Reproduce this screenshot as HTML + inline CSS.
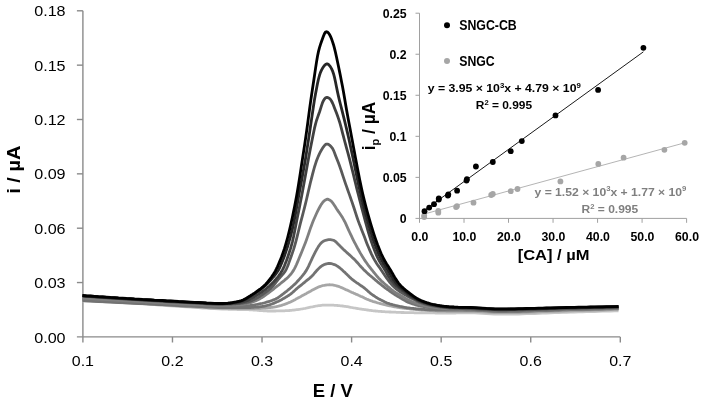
<!DOCTYPE html>
<html><head><meta charset="utf-8"><title>chart</title>
<style>
html,body{margin:0;padding:0;background:#fff;}
body{width:703px;height:404px;overflow:hidden;}
svg{display:block;font-family:"Liberation Sans",sans-serif;filter:grayscale(1);}
</style></head><body>
<svg width="703" height="404" viewBox="0 0 703 404">
<rect width="703" height="404" fill="#fff"/>
<g stroke="#8a8a8a" stroke-width="1.4" fill="none">
<path d="M82.9,10.8 V342.5"/>
<path d="M76.9,336.9 H620.3"/>
<path d="M76.9,10.80 H82.9"/>
<path d="M76.9,65.15 H82.9"/>
<path d="M76.9,119.50 H82.9"/>
<path d="M76.9,173.85 H82.9"/>
<path d="M76.9,228.20 H82.9"/>
<path d="M76.9,282.55 H82.9"/>
<path d="M172.47,336.9 V342.5"/>
<path d="M262.03,336.9 V342.5"/>
<path d="M351.60,336.9 V342.5"/>
<path d="M441.17,336.9 V342.5"/>
<path d="M530.73,336.9 V342.5"/>
<path d="M620.30,336.9 V342.5"/>
</g>
<g font-size="15.3" fill="#000">
<text x="34.2" y="16.40" textLength="31.4" lengthAdjust="spacingAndGlyphs">0.18</text>
<text x="34.2" y="70.75" textLength="31.4" lengthAdjust="spacingAndGlyphs">0.15</text>
<text x="34.2" y="125.10" textLength="31.4" lengthAdjust="spacingAndGlyphs">0.12</text>
<text x="34.2" y="179.45" textLength="31.4" lengthAdjust="spacingAndGlyphs">0.09</text>
<text x="34.2" y="233.80" textLength="31.4" lengthAdjust="spacingAndGlyphs">0.06</text>
<text x="34.2" y="288.15" textLength="31.4" lengthAdjust="spacingAndGlyphs">0.03</text>
<text x="34.2" y="342.50" textLength="31.4" lengthAdjust="spacingAndGlyphs">0.00</text>
<text x="71.80" y="365.7" textLength="22.2" lengthAdjust="spacingAndGlyphs">0.1</text>
<text x="161.37" y="365.7" textLength="22.2" lengthAdjust="spacingAndGlyphs">0.2</text>
<text x="250.93" y="365.7" textLength="22.2" lengthAdjust="spacingAndGlyphs">0.3</text>
<text x="340.50" y="365.7" textLength="22.2" lengthAdjust="spacingAndGlyphs">0.4</text>
<text x="430.07" y="365.7" textLength="22.2" lengthAdjust="spacingAndGlyphs">0.5</text>
<text x="519.63" y="365.7" textLength="22.2" lengthAdjust="spacingAndGlyphs">0.6</text>
<text x="609.20" y="365.7" textLength="22.2" lengthAdjust="spacingAndGlyphs">0.7</text>
</g>
<text x="312.7" y="396.8" font-size="17.6" font-weight="bold" textLength="40.1" lengthAdjust="spacingAndGlyphs">E / V</text>
<text transform="translate(20.3,193.8) rotate(-90)" font-size="18.2" font-weight="bold" textLength="48.3" lengthAdjust="spacingAndGlyphs">i / µA</text>
<g fill="none" stroke-width="2.8" stroke-linejoin="round" stroke-linecap="butt">
<path d="M82.5,300.8 86.5,301.0 90.5,301.2 94.5,301.4 98.5,301.6 102.5,301.8 106.5,302.0 110.5,302.2 114.5,302.4 118.5,302.6 122.5,302.8 126.5,303.0 130.5,303.3 134.5,303.5 138.5,303.7 142.5,303.9 146.5,304.2 150.5,304.4 154.5,304.7 158.5,305.0 162.5,305.2 166.5,305.5 170.5,305.8 174.5,306.1 178.5,306.4 182.5,306.6 186.5,306.9 190.5,307.2 194.5,307.4 198.5,307.7 202.5,308.0 206.5,308.2 210.5,308.5 214.5,308.7 218.5,308.9 222.5,309.1 226.5,309.2 227.5,309.2 228.5,309.3 229.5,309.3 230.5,309.3 231.5,309.3 232.5,309.3 233.5,309.4 234.5,309.4 235.5,309.4 236.5,309.4 237.5,309.5 238.5,309.5 239.5,309.5 240.5,309.5 241.5,309.5 242.5,309.6 243.5,309.6 244.5,309.6 245.5,309.7 246.5,309.7 247.5,309.7 248.5,309.7 249.5,309.8 250.5,309.8 251.5,309.9 252.5,309.9 253.5,310.0 254.5,310.1 255.5,310.1 256.5,310.2 257.5,310.3 258.5,310.4 259.5,310.5 260.5,310.5 261.5,310.6 262.5,310.7 263.5,310.8 264.5,310.8 265.5,310.9 266.5,310.9 267.5,311.0 268.5,311.0 269.5,311.0 270.5,311.0 271.5,311.0 272.5,311.0 273.5,311.0 274.5,311.0 275.5,311.0 276.5,310.9 277.5,310.9 278.5,310.9 279.5,310.9 280.5,310.9 281.5,310.9 282.5,310.8 283.5,310.8 284.5,310.8 285.5,310.7 286.5,310.7 287.5,310.6 288.5,310.6 289.5,310.5 290.5,310.4 291.5,310.3 292.5,310.2 293.5,310.1 294.5,310.0 295.5,309.8 296.5,309.7 297.5,309.6 298.5,309.5 299.5,309.3 300.5,309.2 301.5,309.0 302.5,308.8 303.5,308.7 304.5,308.5 305.5,308.3 306.5,308.0 307.5,307.8 308.5,307.6 309.5,307.4 310.5,307.2 311.5,307.0 312.5,306.8 313.5,306.6 314.5,306.3 315.5,306.2 316.5,306.0 317.5,305.8 318.5,305.7 319.5,305.6 320.5,305.5 321.5,305.3 322.5,305.2 323.5,305.2 324.5,305.1 325.5,305.1 326.5,305.1 327.5,305.1 328.5,305.1 329.5,305.1 330.5,305.2 331.5,305.2 332.5,305.2 333.5,305.2 334.5,305.3 335.5,305.3 336.5,305.4 337.5,305.5 338.5,305.6 339.5,305.7 340.5,305.8 341.5,305.9 342.5,306.0 343.5,306.1 344.5,306.3 345.5,306.4 346.5,306.6 347.5,306.7 348.5,306.9 349.5,307.1 350.5,307.3 351.5,307.5 352.5,307.7 353.5,307.8 354.5,308.0 355.5,308.2 356.5,308.4 357.5,308.5 358.5,308.7 359.5,308.8 360.5,309.0 361.5,309.1 362.5,309.3 363.5,309.4 364.5,309.6 365.5,309.7 366.5,309.9 367.5,310.0 368.5,310.1 369.5,310.3 370.5,310.4 371.5,310.5 372.5,310.7 373.5,310.8 374.5,310.9 375.5,311.0 376.5,311.1 377.5,311.2 378.5,311.3 379.5,311.4 380.5,311.4 381.5,311.5 382.5,311.6 383.5,311.6 384.5,311.7 385.5,311.8 386.5,311.8 387.5,311.9 388.5,311.9 389.5,312.0 390.5,312.0 391.5,312.1 392.5,312.1 393.5,312.2 394.5,312.2 395.5,312.2 396.5,312.3 397.5,312.3 398.5,312.4 399.5,312.4 400.5,312.4 401.5,312.5 402.5,312.5 403.5,312.5 404.5,312.6 405.5,312.6 406.5,312.6 407.5,312.7 408.5,312.7 409.5,312.7 410.5,312.7 411.5,312.7 412.5,312.7 413.5,312.7 414.5,312.8 415.5,312.8 416.5,312.8 417.5,312.8 418.5,312.8 419.5,312.8 420.5,312.8 421.5,312.8 422.5,312.8 423.5,312.9 424.5,312.9 425.5,312.9 426.5,312.9 427.5,312.9 428.5,312.9 429.5,312.9 430.5,312.9 431.5,312.9 432.5,312.9 433.5,312.9 434.5,312.9 435.5,313.0 436.5,313.0 437.5,313.0 438.5,313.0 439.5,313.0 440.5,313.0 441.5,313.0 442.5,313.0 443.5,313.0 444.5,313.0 445.5,313.0 446.5,313.0 447.5,313.0 448.5,313.0 449.5,313.0 450.5,313.0 451.5,313.0 452.5,313.0 453.5,313.0 454.5,313.0 455.5,313.0 456.5,312.9 457.5,312.9 458.5,312.9 459.5,312.9 462.5,312.9 466.5,312.8 470.5,312.8 474.5,312.9 478.5,313.1 482.5,313.3 486.5,313.6 490.5,313.9 494.5,314.1 498.5,314.2 502.5,314.2 506.5,314.2 510.5,314.1 514.5,314.0 518.5,314.0 522.5,313.8 526.5,313.7 530.5,313.6 534.5,313.5 538.5,313.3 542.5,313.2 546.5,313.0 550.5,312.9 554.5,312.7 558.5,312.6 562.5,312.4 566.5,312.3 570.5,312.2 574.5,312.0 578.5,311.9 582.5,311.8 586.5,311.7 590.5,311.6 594.5,311.5 598.5,311.3 602.5,311.2 606.5,311.1 610.5,311.0 614.5,310.9 618.5,310.8" stroke="#c6c6c6"/>
<path d="M82.5,300.2 86.5,300.4 90.5,300.6 94.5,300.8 98.5,301.0 102.5,301.2 106.5,301.4 110.5,301.6 114.5,301.9 118.5,302.1 122.5,302.3 126.5,302.5 130.5,302.7 134.5,303.0 138.5,303.2 142.5,303.4 146.5,303.7 150.5,304.0 154.5,304.2 158.5,304.5 162.5,304.8 166.5,305.0 170.5,305.3 174.5,305.6 178.5,305.9 182.5,306.1 186.5,306.4 190.5,306.6 194.5,306.9 198.5,307.1 202.5,307.3 206.5,307.6 210.5,307.8 214.5,308.0 218.5,308.2 222.5,308.3 226.5,308.4 227.5,308.4 228.5,308.4 229.5,308.4 230.5,308.4 231.5,308.5 232.5,308.5 233.5,308.5 234.5,308.5 235.5,308.5 236.5,308.5 237.5,308.6 238.5,308.6 239.5,308.6 240.5,308.6 241.5,308.6 242.5,308.6 243.5,308.6 244.5,308.6 245.5,308.6 246.5,308.6 247.5,308.6 248.5,308.6 249.5,308.6 250.5,308.5 251.5,308.5 252.5,308.5 253.5,308.5 254.5,308.5 255.5,308.4 256.5,308.4 257.5,308.4 258.5,308.3 259.5,308.3 260.5,308.3 261.5,308.2 262.5,308.2 263.5,308.1 264.5,308.1 265.5,308.0 266.5,307.9 267.5,307.8 268.5,307.7 269.5,307.6 270.5,307.5 271.5,307.4 272.5,307.3 273.5,307.1 274.5,307.0 275.5,306.8 276.5,306.6 277.5,306.4 278.5,306.2 279.5,305.9 280.5,305.6 281.5,305.4 282.5,305.0 283.5,304.7 284.5,304.4 285.5,304.0 286.5,303.6 287.5,303.2 288.5,302.8 289.5,302.4 290.5,302.0 291.5,301.5 292.5,301.0 293.5,300.5 294.5,299.9 295.5,299.4 296.5,298.8 297.5,298.3 298.5,297.7 299.5,297.2 300.5,296.7 301.5,296.1 302.5,295.6 303.5,295.0 304.5,294.5 305.5,293.9 306.5,293.4 307.5,292.8 308.5,292.3 309.5,291.7 310.5,291.2 311.5,290.6 312.5,290.1 313.5,289.6 314.5,289.0 315.5,288.5 316.5,288.0 317.5,287.5 318.5,287.0 319.5,286.6 320.5,286.3 321.5,286.0 322.5,285.7 323.5,285.5 324.5,285.3 325.5,285.1 326.5,285.0 327.5,284.8 328.5,284.8 329.5,284.7 330.5,284.8 331.5,284.8 332.5,284.9 333.5,285.1 334.5,285.3 335.5,285.5 336.5,285.8 337.5,286.1 338.5,286.4 339.5,286.8 340.5,287.2 341.5,287.6 342.5,288.0 343.5,288.5 344.5,288.9 345.5,289.4 346.5,289.9 347.5,290.3 348.5,290.8 349.5,291.3 350.5,291.7 351.5,292.2 352.5,292.6 353.5,293.1 354.5,293.5 355.5,293.9 356.5,294.4 357.5,294.8 358.5,295.3 359.5,295.7 360.5,296.2 361.5,296.6 362.5,297.1 363.5,297.6 364.5,298.1 365.5,298.5 366.5,299.0 367.5,299.4 368.5,299.8 369.5,300.2 370.5,300.6 371.5,300.9 372.5,301.3 373.5,301.6 374.5,301.9 375.5,302.2 376.5,302.5 377.5,302.8 378.5,303.0 379.5,303.3 380.5,303.6 381.5,303.9 382.5,304.1 383.5,304.4 384.5,304.7 385.5,304.9 386.5,305.1 387.5,305.4 388.5,305.6 389.5,305.8 390.5,306.0 391.5,306.2 392.5,306.4 393.5,306.6 394.5,306.8 395.5,307.0 396.5,307.2 397.5,307.3 398.5,307.5 399.5,307.7 400.5,307.8 401.5,307.9 402.5,308.1 403.5,308.2 404.5,308.3 405.5,308.4 406.5,308.5 407.5,308.6 408.5,308.7 409.5,308.8 410.5,309.0 411.5,309.1 412.5,309.2 413.5,309.3 414.5,309.4 415.5,309.5 416.5,309.5 417.5,309.6 418.5,309.7 419.5,309.8 420.5,309.9 421.5,310.0 422.5,310.1 423.5,310.2 424.5,310.2 425.5,310.3 426.5,310.4 427.5,310.5 428.5,310.5 429.5,310.6 430.5,310.6 431.5,310.7 432.5,310.7 433.5,310.8 434.5,310.8 435.5,310.9 436.5,310.9 437.5,311.0 438.5,311.0 439.5,311.1 440.5,311.1 441.5,311.1 442.5,311.2 443.5,311.2 444.5,311.2 445.5,311.2 446.5,311.3 447.5,311.3 448.5,311.3 449.5,311.3 450.5,311.3 451.5,311.3 452.5,311.3 453.5,311.3 454.5,311.3 455.5,311.3 456.5,311.3 457.5,311.3 458.5,311.3 459.5,311.3 462.5,311.3 466.5,311.3 470.5,311.3 474.5,311.4 478.5,311.6 482.5,311.8 486.5,312.1 490.5,312.4 494.5,312.6 498.5,312.7 502.5,312.7 506.5,312.7 510.5,312.6 514.5,312.6 518.5,312.5 522.5,312.4 526.5,312.3 530.5,312.1 534.5,312.0 538.5,311.9 542.5,311.7 546.5,311.6 550.5,311.4 554.5,311.3 558.5,311.2 562.5,311.0 566.5,310.9 570.5,310.8 574.5,310.7 578.5,310.6 582.5,310.5 586.5,310.4 590.5,310.3 594.5,310.2 598.5,310.1 602.5,310.0 606.5,309.9 610.5,309.7 614.5,309.6 618.5,309.6" stroke="#a6a6a6"/>
<path d="M82.5,300.7 86.5,300.9 90.5,301.1 94.5,301.3 98.5,301.5 102.5,301.7 106.5,301.9 110.5,302.1 114.5,302.3 118.5,302.5 122.5,302.7 126.5,302.9 130.5,303.1 134.5,303.3 138.5,303.5 142.5,303.7 146.5,303.9 150.5,304.1 154.5,304.3 158.5,304.5 162.5,304.7 166.5,304.9 170.5,305.1 174.5,305.4 178.5,305.6 182.5,305.8 186.5,306.0 190.5,306.1 194.5,306.3 198.5,306.5 202.5,306.7 206.5,307.0 210.5,307.2 214.5,307.4 218.5,307.5 222.5,307.5 226.5,307.5 227.5,307.5 228.5,307.6 229.5,307.6 230.5,307.6 231.5,307.6 232.5,307.6 233.5,307.6 234.5,307.6 235.5,307.6 236.5,307.6 237.5,307.6 238.5,307.6 239.5,307.6 240.5,307.6 241.5,307.6 242.5,307.6 243.5,307.6 244.5,307.6 245.5,307.6 246.5,307.6 247.5,307.6 248.5,307.5 249.5,307.5 250.5,307.5 251.5,307.4 252.5,307.4 253.5,307.3 254.5,307.2 255.5,307.2 256.5,307.1 257.5,307.0 258.5,307.0 259.5,306.9 260.5,306.7 261.5,306.6 262.5,306.4 263.5,306.3 264.5,306.1 265.5,305.9 266.5,305.6 267.5,305.4 268.5,305.2 269.5,304.9 270.5,304.5 271.5,304.2 272.5,303.8 273.5,303.4 274.5,302.9 275.5,302.5 276.5,302.1 277.5,301.6 278.5,301.2 279.5,300.7 280.5,300.2 281.5,299.7 282.5,299.1 283.5,298.6 284.5,298.0 285.5,297.4 286.5,296.8 287.5,296.1 288.5,295.5 289.5,294.8 290.5,294.1 291.5,293.3 292.5,292.5 293.5,291.6 294.5,290.7 295.5,289.8 296.5,288.9 297.5,288.0 298.5,287.2 299.5,286.4 300.5,285.6 301.5,284.8 302.5,284.0 303.5,283.2 304.5,282.4 305.5,281.5 306.5,280.7 307.5,279.9 308.5,279.1 309.5,278.3 310.5,277.4 311.5,276.4 312.5,275.4 313.5,274.4 314.5,273.2 315.5,272.0 316.5,270.8 317.5,269.7 318.5,268.7 319.5,267.8 320.5,266.9 321.5,266.1 322.5,265.4 323.5,264.9 324.5,264.5 325.5,264.1 326.5,263.8 327.5,263.6 328.5,263.5 329.5,263.5 330.5,263.5 331.5,263.7 332.5,264.0 333.5,264.3 334.5,264.6 335.5,265.0 336.5,265.6 337.5,266.2 338.5,267.0 339.5,267.7 340.5,268.5 341.5,269.3 342.5,270.2 343.5,271.2 344.5,272.1 345.5,273.1 346.5,274.0 347.5,275.0 348.5,275.9 349.5,276.9 350.5,277.9 351.5,278.8 352.5,279.6 353.5,280.4 354.5,281.2 355.5,281.9 356.5,282.6 357.5,283.2 358.5,283.9 359.5,284.6 360.5,285.3 361.5,286.0 362.5,286.7 363.5,287.4 364.5,288.2 365.5,289.0 366.5,289.8 367.5,290.7 368.5,291.7 369.5,292.5 370.5,293.4 371.5,294.1 372.5,294.8 373.5,295.5 374.5,296.2 375.5,296.9 376.5,297.5 377.5,298.1 378.5,298.7 379.5,299.2 380.5,299.8 381.5,300.3 382.5,300.8 383.5,301.3 384.5,301.8 385.5,302.2 386.5,302.7 387.5,303.1 388.5,303.4 389.5,303.8 390.5,304.1 391.5,304.4 392.5,304.7 393.5,305.0 394.5,305.2 395.5,305.5 396.5,305.7 397.5,305.9 398.5,306.1 399.5,306.3 400.5,306.5 401.5,306.7 402.5,306.9 403.5,307.1 404.5,307.3 405.5,307.5 406.5,307.6 407.5,307.8 408.5,307.9 409.5,308.0 410.5,308.2 411.5,308.3 412.5,308.4 413.5,308.5 414.5,308.6 415.5,308.7 416.5,308.8 417.5,308.9 418.5,309.0 419.5,309.1 420.5,309.2 421.5,309.3 422.5,309.4 423.5,309.4 424.5,309.5 425.5,309.6 426.5,309.6 427.5,309.7 428.5,309.7 429.5,309.8 430.5,309.8 431.5,309.8 432.5,309.9 433.5,309.9 434.5,309.9 435.5,310.0 436.5,310.0 437.5,310.0 438.5,310.0 439.5,310.1 440.5,310.1 441.5,310.1 442.5,310.1 443.5,310.1 444.5,310.2 445.5,310.2 446.5,310.2 447.5,310.2 448.5,310.2 449.5,310.2 450.5,310.2 451.5,310.2 452.5,310.2 453.5,310.2 454.5,310.2 455.5,310.2 456.5,310.2 457.5,310.2 458.5,310.2 459.5,310.2 462.5,310.1 466.5,310.1 470.5,310.1 474.5,310.2 478.5,310.4 482.5,310.6 486.5,310.9 490.5,311.2 494.5,311.4 498.5,311.5 502.5,311.5 506.5,311.5 510.5,311.4 514.5,311.4 518.5,311.3 522.5,311.2 526.5,311.1 530.5,311.0 534.5,310.8 538.5,310.7 542.5,310.6 546.5,310.5 550.5,310.3 554.5,310.2 558.5,310.1 562.5,309.9 566.5,309.8 570.5,309.7 574.5,309.6 578.5,309.5 582.5,309.4 586.5,309.3 590.5,309.2 594.5,309.1 598.5,309.1 602.5,309.0 606.5,308.9 610.5,308.8 614.5,308.7 618.5,308.6" stroke="#737373"/>
<path d="M82.5,299.4 86.5,299.6 90.5,299.9 94.5,300.1 98.5,300.3 102.5,300.5 106.5,300.8 110.5,301.0 114.5,301.2 118.5,301.4 122.5,301.7 126.5,301.9 130.5,302.1 134.5,302.3 138.5,302.5 142.5,302.7 146.5,303.0 150.5,303.2 154.5,303.4 158.5,303.6 162.5,303.8 166.5,304.1 170.5,304.3 174.5,304.5 178.5,304.7 182.5,304.9 186.5,305.1 190.5,305.3 194.5,305.5 198.5,305.6 202.5,305.8 206.5,306.0 210.5,306.2 214.5,306.3 218.5,306.4 222.5,306.4 226.5,306.4 227.5,306.4 228.5,306.4 229.5,306.3 230.5,306.3 231.5,306.3 232.5,306.3 233.5,306.3 234.5,306.3 235.5,306.2 236.5,306.2 237.5,306.2 238.5,306.2 239.5,306.2 240.5,306.1 241.5,306.1 242.5,306.1 243.5,306.0 244.5,306.0 245.5,306.0 246.5,305.9 247.5,305.8 248.5,305.7 249.5,305.6 250.5,305.5 251.5,305.4 252.5,305.2 253.5,305.0 254.5,304.8 255.5,304.7 256.5,304.5 257.5,304.3 258.5,304.1 259.5,303.9 260.5,303.7 261.5,303.5 262.5,303.3 263.5,303.0 264.5,302.8 265.5,302.5 266.5,302.2 267.5,301.9 268.5,301.6 269.5,301.3 270.5,301.0 271.5,300.7 272.5,300.3 273.5,299.9 274.5,299.5 275.5,299.1 276.5,298.6 277.5,298.0 278.5,297.3 279.5,296.6 280.5,295.9 281.5,295.1 282.5,294.3 283.5,293.6 284.5,292.8 285.5,292.0 286.5,291.3 287.5,290.5 288.5,289.7 289.5,288.9 290.5,288.0 291.5,287.1 292.5,286.2 293.5,285.3 294.5,284.4 295.5,283.4 296.5,282.4 297.5,281.3 298.5,280.2 299.5,279.1 300.5,278.0 301.5,276.9 302.5,275.7 303.5,274.4 304.5,273.1 305.5,271.6 306.5,270.1 307.5,268.3 308.5,266.4 309.5,264.2 310.5,262.0 311.5,259.9 312.5,257.7 313.5,255.7 314.5,253.7 315.5,251.7 316.5,249.8 317.5,248.1 318.5,246.4 319.5,245.0 320.5,243.7 321.5,242.6 322.5,241.8 323.5,241.1 324.5,240.7 325.5,240.3 326.5,240.1 327.5,239.9 328.5,239.7 329.5,239.7 330.5,239.7 331.5,239.8 332.5,240.0 333.5,240.3 334.5,240.8 335.5,241.5 336.5,242.4 337.5,243.4 338.5,244.4 339.5,245.4 340.5,246.5 341.5,247.5 342.5,248.5 343.5,249.5 344.5,250.4 345.5,251.3 346.5,252.2 347.5,253.1 348.5,254.0 349.5,254.9 350.5,255.8 351.5,256.7 352.5,257.7 353.5,258.6 354.5,259.6 355.5,260.6 356.5,261.7 357.5,262.8 358.5,263.9 359.5,265.1 360.5,266.2 361.5,267.3 362.5,268.3 363.5,269.4 364.5,270.4 365.5,271.3 366.5,272.3 367.5,273.2 368.5,274.1 369.5,275.0 370.5,275.8 371.5,276.7 372.5,277.5 373.5,278.4 374.5,279.2 375.5,280.1 376.5,280.9 377.5,281.8 378.5,282.6 379.5,283.4 380.5,284.2 381.5,285.0 382.5,285.8 383.5,286.5 384.5,287.3 385.5,288.1 386.5,288.8 387.5,289.5 388.5,290.2 389.5,291.0 390.5,291.7 391.5,292.3 392.5,293.0 393.5,293.7 394.5,294.3 395.5,295.0 396.5,295.6 397.5,296.2 398.5,296.8 399.5,297.4 400.5,298.0 401.5,298.6 402.5,299.2 403.5,299.7 404.5,300.3 405.5,300.9 406.5,301.4 407.5,301.9 408.5,302.4 409.5,302.8 410.5,303.2 411.5,303.5 412.5,303.9 413.5,304.2 414.5,304.5 415.5,304.8 416.5,305.1 417.5,305.4 418.5,305.6 419.5,305.9 420.5,306.1 421.5,306.3 422.5,306.5 423.5,306.7 424.5,306.9 425.5,307.1 426.5,307.3 427.5,307.4 428.5,307.6 429.5,307.7 430.5,307.9 431.5,308.0 432.5,308.1 433.5,308.2 434.5,308.4 435.5,308.5 436.5,308.6 437.5,308.7 438.5,308.8 439.5,308.9 440.5,309.0 441.5,309.1 442.5,309.2 443.5,309.3 444.5,309.3 445.5,309.4 446.5,309.5 447.5,309.5 448.5,309.6 449.5,309.6 450.5,309.6 451.5,309.6 452.5,309.6 453.5,309.7 454.5,309.7 455.5,309.7 456.5,309.7 457.5,309.7 458.5,309.7 459.5,309.7 462.5,309.7 466.5,309.8 470.5,309.8 474.5,309.9 478.5,310.1 482.5,310.4 486.5,310.7 490.5,310.9 494.5,311.1 498.5,311.2 502.5,311.2 506.5,311.2 510.5,311.1 514.5,311.1 518.5,311.0 522.5,310.9 526.5,310.8 530.5,310.7 534.5,310.6 538.5,310.4 542.5,310.3 546.5,310.2 550.5,310.0 554.5,309.9 558.5,309.8 562.5,309.7 566.5,309.6 570.5,309.5 574.5,309.4 578.5,309.3 582.5,309.2 586.5,309.1 590.5,309.0 594.5,308.9 598.5,308.8 602.5,308.7 606.5,308.6 610.5,308.5 614.5,308.4 618.5,308.3" stroke="#737373"/>
<path d="M82.5,298.0 86.5,298.3 90.5,298.5 94.5,298.8 98.5,299.1 102.5,299.3 106.5,299.6 110.5,299.8 114.5,300.1 118.5,300.3 122.5,300.6 126.5,300.8 130.5,301.0 134.5,301.3 138.5,301.5 142.5,301.7 146.5,302.0 150.5,302.2 154.5,302.5 158.5,302.7 162.5,302.9 166.5,303.2 170.5,303.4 174.5,303.6 178.5,303.8 182.5,304.0 186.5,304.2 190.5,304.4 194.5,304.6 198.5,304.7 202.5,304.9 206.5,305.1 210.5,305.2 214.5,305.3 218.5,305.4 222.5,305.4 226.5,305.3 227.5,305.3 228.5,305.3 229.5,305.3 230.5,305.2 231.5,305.2 232.5,305.2 233.5,305.1 234.5,305.1 235.5,305.0 236.5,305.0 237.5,304.9 238.5,304.9 239.5,304.8 240.5,304.7 241.5,304.6 242.5,304.5 243.5,304.4 244.5,304.2 245.5,303.9 246.5,303.7 247.5,303.5 248.5,303.2 249.5,302.9 250.5,302.6 251.5,302.3 252.5,302.0 253.5,301.7 254.5,301.3 255.5,300.9 256.5,300.4 257.5,300.0 258.5,299.5 259.5,299.0 260.5,298.4 261.5,297.8 262.5,297.2 263.5,296.5 264.5,295.8 265.5,295.1 266.5,294.4 267.5,293.7 268.5,293.0 269.5,292.2 270.5,291.4 271.5,290.7 272.5,289.9 273.5,289.1 274.5,288.2 275.5,287.4 276.5,286.6 277.5,285.8 278.5,285.1 279.5,284.3 280.5,283.5 281.5,282.7 282.5,281.9 283.5,281.1 284.5,280.3 285.5,279.4 286.5,278.6 287.5,277.7 288.5,276.7 289.5,275.6 290.5,274.5 291.5,273.3 292.5,271.9 293.5,270.4 294.5,268.6 295.5,266.7 296.5,264.5 297.5,262.1 298.5,259.7 299.5,257.3 300.5,254.9 301.5,252.5 302.5,250.0 303.5,247.5 304.5,245.0 305.5,242.4 306.5,239.7 307.5,236.9 308.5,234.0 309.5,231.0 310.5,228.1 311.5,225.4 312.5,222.8 313.5,220.3 314.5,218.0 315.5,215.7 316.5,213.5 317.5,211.4 318.5,209.4 319.5,207.5 320.5,205.7 321.5,204.1 322.5,202.7 323.5,201.5 324.5,200.6 325.5,199.9 326.5,199.4 327.5,199.2 328.5,199.4 329.5,199.9 330.5,200.6 331.5,201.4 332.5,202.6 333.5,204.0 334.5,205.5 335.5,207.1 336.5,208.7 337.5,210.1 338.5,211.6 339.5,213.0 340.5,214.5 341.5,216.0 342.5,217.6 343.5,219.4 344.5,221.2 345.5,223.2 346.5,225.4 347.5,227.6 348.5,229.8 349.5,232.0 350.5,234.1 351.5,236.2 352.5,238.3 353.5,240.3 354.5,242.3 355.5,244.2 356.5,246.1 357.5,248.0 358.5,249.8 359.5,251.6 360.5,253.4 361.5,255.1 362.5,256.7 363.5,258.3 364.5,259.9 365.5,261.4 366.5,262.8 367.5,264.2 368.5,265.6 369.5,266.9 370.5,268.2 371.5,269.5 372.5,270.7 373.5,272.0 374.5,273.2 375.5,274.4 376.5,275.6 377.5,276.8 378.5,277.9 379.5,278.9 380.5,280.0 381.5,281.0 382.5,281.9 383.5,282.8 384.5,283.7 385.5,284.6 386.5,285.4 387.5,286.3 388.5,287.1 389.5,287.9 390.5,288.8 391.5,289.6 392.5,290.3 393.5,291.1 394.5,291.8 395.5,292.5 396.5,293.1 397.5,293.7 398.5,294.3 399.5,294.9 400.5,295.5 401.5,296.1 402.5,296.6 403.5,297.2 404.5,297.8 405.5,298.4 406.5,299.0 407.5,299.6 408.5,300.1 409.5,300.6 410.5,301.1 411.5,301.5 412.5,302.0 413.5,302.3 414.5,302.7 415.5,303.1 416.5,303.4 417.5,303.7 418.5,304.1 419.5,304.4 420.5,304.6 421.5,304.9 422.5,305.2 423.5,305.4 424.5,305.7 425.5,305.9 426.5,306.1 427.5,306.3 428.5,306.5 429.5,306.7 430.5,306.9 431.5,307.0 432.5,307.2 433.5,307.3 434.5,307.5 435.5,307.6 436.5,307.7 437.5,307.9 438.5,308.0 439.5,308.1 440.5,308.2 441.5,308.3 442.5,308.5 443.5,308.6 444.5,308.6 445.5,308.7 446.5,308.8 447.5,308.9 448.5,308.9 449.5,309.0 450.5,309.0 451.5,309.1 452.5,309.1 453.5,309.1 454.5,309.1 455.5,309.2 456.5,309.2 457.5,309.2 458.5,309.2 459.5,309.3 462.5,309.3 466.5,309.4 470.5,309.5 474.5,309.7 478.5,309.9 482.5,310.2 486.5,310.4 490.5,310.6 494.5,310.8 498.5,310.9 502.5,310.9 506.5,310.9 510.5,310.8 514.5,310.8 518.5,310.7 522.5,310.6 526.5,310.5 530.5,310.4 534.5,310.3 538.5,310.1 542.5,310.0 546.5,309.9 550.5,309.8 554.5,309.6 558.5,309.5 562.5,309.4 566.5,309.3 570.5,309.2 574.5,309.1 578.5,309.0 582.5,308.9 586.5,308.8 590.5,308.7 594.5,308.6 598.5,308.5 602.5,308.5 606.5,308.4 610.5,308.3 614.5,308.2 618.5,308.1" stroke="#7f7f7f"/>
<path d="M82.5,296.2 86.5,296.5 90.5,296.7 94.5,297.0 98.5,297.3 102.5,297.5 106.5,297.8 110.5,298.0 114.5,298.3 118.5,298.6 122.5,298.8 126.5,299.1 130.5,299.3 134.5,299.6 138.5,299.8 142.5,300.1 146.5,300.3 150.5,300.5 154.5,300.8 158.5,301.0 162.5,301.3 166.5,301.5 170.5,301.8 174.5,302.0 178.5,302.2 182.5,302.5 186.5,302.7 190.5,302.9 194.5,303.1 198.5,303.3 202.5,303.5 206.5,303.8 210.5,304.0 214.5,304.2 218.5,304.3 222.5,304.3 226.5,304.2 227.5,304.2 228.5,304.1 229.5,304.1 230.5,304.0 231.5,304.0 232.5,303.9 233.5,303.9 234.5,303.8 235.5,303.8 236.5,303.7 237.5,303.6 238.5,303.6 239.5,303.5 240.5,303.4 241.5,303.2 242.5,303.1 243.5,302.9 244.5,302.7 245.5,302.5 246.5,302.3 247.5,302.1 248.5,301.8 249.5,301.5 250.5,301.1 251.5,300.7 252.5,300.2 253.5,299.8 254.5,299.2 255.5,298.7 256.5,298.2 257.5,297.7 258.5,297.1 259.5,296.5 260.5,295.8 261.5,295.2 262.5,294.5 263.5,293.8 264.5,293.1 265.5,292.4 266.5,291.7 267.5,290.9 268.5,290.1 269.5,289.2 270.5,288.4 271.5,287.4 272.5,286.5 273.5,285.4 274.5,284.2 275.5,283.0 276.5,281.7 277.5,280.4 278.5,279.2 279.5,278.0 280.5,276.8 281.5,275.7 282.5,274.6 283.5,273.5 284.5,272.2 285.5,270.7 286.5,268.8 287.5,266.5 288.5,263.9 289.5,261.1 290.5,258.3 291.5,255.5 292.5,252.6 293.5,249.6 294.5,246.3 295.5,242.8 296.5,239.1 297.5,235.2 298.5,231.0 299.5,226.9 300.5,222.9 301.5,219.1 302.5,215.3 303.5,211.5 304.5,207.7 305.5,203.7 306.5,199.5 307.5,195.1 308.5,190.8 309.5,186.5 310.5,182.3 311.5,178.3 312.5,174.3 313.5,170.6 314.5,167.0 315.5,163.8 316.5,160.8 317.5,158.2 318.5,155.8 319.5,153.6 320.5,151.7 321.5,149.9 322.5,148.3 323.5,146.8 324.5,145.5 325.5,144.6 326.5,144.1 327.5,144.1 328.5,144.4 329.5,145.1 330.5,146.0 331.5,147.1 332.5,148.4 333.5,150.3 334.5,152.7 335.5,155.4 336.5,158.0 337.5,160.5 338.5,163.0 339.5,165.7 340.5,168.6 341.5,171.5 342.5,174.6 343.5,177.6 344.5,180.6 345.5,183.6 346.5,186.4 347.5,189.3 348.5,192.1 349.5,194.9 350.5,197.7 351.5,200.6 352.5,203.5 353.5,206.5 354.5,209.5 355.5,212.7 356.5,215.8 357.5,218.8 358.5,221.6 359.5,224.3 360.5,226.8 361.5,229.4 362.5,231.9 363.5,234.5 364.5,237.1 365.5,239.8 366.5,242.4 367.5,244.9 368.5,247.3 369.5,249.6 370.5,251.9 371.5,254.1 372.5,256.1 373.5,258.1 374.5,259.9 375.5,261.6 376.5,263.2 377.5,264.7 378.5,266.1 379.5,267.5 380.5,269.0 381.5,270.5 382.5,272.0 383.5,273.5 384.5,275.0 385.5,276.4 386.5,277.9 387.5,279.3 388.5,280.7 389.5,282.0 390.5,283.2 391.5,284.4 392.5,285.5 393.5,286.5 394.5,287.4 395.5,288.3 396.5,289.1 397.5,289.9 398.5,290.6 399.5,291.3 400.5,292.0 401.5,292.7 402.5,293.3 403.5,293.9 404.5,294.5 405.5,295.1 406.5,295.6 407.5,296.2 408.5,296.7 409.5,297.2 410.5,297.8 411.5,298.3 412.5,298.8 413.5,299.3 414.5,299.8 415.5,300.3 416.5,300.8 417.5,301.3 418.5,301.7 419.5,302.1 420.5,302.5 421.5,302.8 422.5,303.2 423.5,303.5 424.5,303.9 425.5,304.2 426.5,304.5 427.5,304.7 428.5,305.0 429.5,305.2 430.5,305.4 431.5,305.6 432.5,305.8 433.5,305.9 434.5,306.1 435.5,306.3 436.5,306.4 437.5,306.6 438.5,306.8 439.5,306.9 440.5,307.0 441.5,307.2 442.5,307.3 443.5,307.4 444.5,307.5 445.5,307.6 446.5,307.7 447.5,307.8 448.5,307.9 449.5,308.0 450.5,308.0 451.5,308.1 452.5,308.2 453.5,308.2 454.5,308.3 455.5,308.3 456.5,308.4 457.5,308.4 458.5,308.4 459.5,308.5 462.5,308.6 466.5,308.8 470.5,308.9 474.5,309.1 478.5,309.4 482.5,309.6 486.5,309.9 490.5,310.1 494.5,310.2 498.5,310.3 502.5,310.3 506.5,310.3 510.5,310.2 514.5,310.2 518.5,310.1 522.5,310.0 526.5,309.9 530.5,309.8 534.5,309.7 538.5,309.6 542.5,309.4 546.5,309.3 550.5,309.2 554.5,309.1 558.5,309.0 562.5,308.8 566.5,308.7 570.5,308.6 574.5,308.6 578.5,308.5 582.5,308.4 586.5,308.3 590.5,308.2 594.5,308.1 598.5,308.0 602.5,308.0 606.5,307.9 610.5,307.8 614.5,307.7 618.5,307.6" stroke="#595959"/>
<path d="M82.5,295.9 86.5,296.2 90.5,296.4 94.5,296.7 98.5,297.0 102.5,297.2 106.5,297.5 110.5,297.8 114.5,298.0 118.5,298.3 122.5,298.5 126.5,298.8 130.5,299.0 134.5,299.3 138.5,299.5 142.5,299.8 146.5,300.0 150.5,300.2 154.5,300.5 158.5,300.7 162.5,300.9 166.5,301.2 170.5,301.4 174.5,301.6 178.5,301.9 182.5,302.1 186.5,302.3 190.5,302.5 194.5,302.7 198.5,302.9 202.5,303.1 206.5,303.4 210.5,303.6 214.5,303.8 218.5,303.9 222.5,303.9 226.5,303.7 227.5,303.7 228.5,303.6 229.5,303.5 230.5,303.5 231.5,303.4 232.5,303.3 233.5,303.2 234.5,303.1 235.5,303.0 236.5,302.9 237.5,302.8 238.5,302.7 239.5,302.5 240.5,302.3 241.5,302.1 242.5,301.9 243.5,301.7 244.5,301.4 245.5,301.1 246.5,300.8 247.5,300.4 248.5,299.9 249.5,299.4 250.5,298.8 251.5,298.3 252.5,297.7 253.5,297.2 254.5,296.6 255.5,296.0 256.5,295.4 257.5,294.8 258.5,294.1 259.5,293.5 260.5,292.8 261.5,292.2 262.5,291.5 263.5,290.8 264.5,290.0 265.5,289.3 266.5,288.5 267.5,287.7 268.5,286.9 269.5,286.0 270.5,285.0 271.5,284.1 272.5,283.0 273.5,282.0 274.5,280.8 275.5,279.7 276.5,278.5 277.5,277.3 278.5,276.0 279.5,274.6 280.5,273.2 281.5,271.6 282.5,269.9 283.5,267.8 284.5,265.6 285.5,263.1 286.5,260.5 287.5,257.7 288.5,254.8 289.5,251.8 290.5,248.6 291.5,245.1 292.5,241.3 293.5,236.9 294.5,232.0 295.5,226.9 296.5,221.8 297.5,216.8 298.5,211.9 299.5,206.9 300.5,201.8 301.5,196.7 302.5,191.5 303.5,186.1 304.5,180.6 305.5,175.0 306.5,169.4 307.5,163.9 308.5,158.5 309.5,153.2 310.5,148.0 311.5,142.9 312.5,137.9 313.5,132.9 314.5,128.2 315.5,124.1 316.5,120.5 317.5,117.6 318.5,114.8 319.5,112.0 320.5,108.9 321.5,105.6 322.5,102.7 323.5,100.6 324.5,99.0 325.5,97.9 326.5,97.5 327.5,97.5 328.5,97.9 329.5,98.5 330.5,99.5 331.5,101.0 332.5,103.0 333.5,105.3 334.5,107.9 335.5,110.5 336.5,113.1 337.5,115.7 338.5,118.6 339.5,121.7 340.5,125.2 341.5,128.9 342.5,132.8 343.5,136.7 344.5,140.5 345.5,144.2 346.5,147.8 347.5,151.5 348.5,155.1 349.5,158.9 350.5,162.8 351.5,166.8 352.5,170.8 353.5,174.9 354.5,179.1 355.5,183.2 356.5,187.3 357.5,191.3 358.5,195.2 359.5,199.1 360.5,203.0 361.5,206.8 362.5,210.6 363.5,214.4 364.5,218.1 365.5,221.8 366.5,225.5 367.5,229.1 368.5,232.5 369.5,235.8 370.5,239.0 371.5,242.0 372.5,244.9 373.5,247.6 374.5,250.3 375.5,252.8 376.5,255.2 377.5,257.4 378.5,259.4 379.5,261.2 380.5,262.9 381.5,264.5 382.5,266.0 383.5,267.6 384.5,269.2 385.5,270.9 386.5,272.7 387.5,274.5 388.5,276.2 389.5,277.8 390.5,279.3 391.5,280.6 392.5,281.9 393.5,283.1 394.5,284.2 395.5,285.2 396.5,286.1 397.5,286.9 398.5,287.7 399.5,288.4 400.5,289.1 401.5,289.8 402.5,290.5 403.5,291.2 404.5,292.0 405.5,292.7 406.5,293.5 407.5,294.3 408.5,295.0 409.5,295.7 410.5,296.3 411.5,296.9 412.5,297.5 413.5,298.1 414.5,298.6 415.5,299.1 416.5,299.6 417.5,300.1 418.5,300.6 419.5,301.0 420.5,301.4 421.5,301.8 422.5,302.2 423.5,302.5 424.5,302.9 425.5,303.2 426.5,303.5 427.5,303.8 428.5,304.0 429.5,304.3 430.5,304.5 431.5,304.7 432.5,304.9 433.5,305.1 434.5,305.3 435.5,305.5 436.5,305.7 437.5,305.9 438.5,306.1 439.5,306.2 440.5,306.4 441.5,306.5 442.5,306.7 443.5,306.8 444.5,306.9 445.5,307.0 446.5,307.1 447.5,307.2 448.5,307.3 449.5,307.4 450.5,307.4 451.5,307.5 452.5,307.5 453.5,307.5 454.5,307.6 455.5,307.6 456.5,307.6 457.5,307.7 458.5,307.7 459.5,307.7 462.5,307.8 466.5,307.9 470.5,308.0 474.5,308.2 478.5,308.4 482.5,308.7 486.5,308.9 490.5,309.1 494.5,309.3 498.5,309.4 502.5,309.4 506.5,309.4 510.5,309.3 514.5,309.3 518.5,309.2 522.5,309.1 526.5,309.0 530.5,308.9 534.5,308.8 538.5,308.7 542.5,308.6 546.5,308.5 550.5,308.4 554.5,308.2 558.5,308.1 562.5,308.0 566.5,307.9 570.5,307.8 574.5,307.8 578.5,307.7 582.5,307.6 586.5,307.5 590.5,307.4 594.5,307.4 598.5,307.3 602.5,307.2 606.5,307.1 610.5,307.0 614.5,307.0 618.5,306.9" stroke="#404040"/>
<path d="M82.5,295.7 86.5,296.0 90.5,296.2 94.5,296.5 98.5,296.8 102.5,297.0 106.5,297.3 110.5,297.6 114.5,297.8 118.5,298.1 122.5,298.3 126.5,298.6 130.5,298.8 134.5,299.1 138.5,299.3 142.5,299.6 146.5,299.8 150.5,300.0 154.5,300.3 158.5,300.5 162.5,300.7 166.5,301.0 170.5,301.2 174.5,301.4 178.5,301.7 182.5,301.9 186.5,302.1 190.5,302.3 194.5,302.5 198.5,302.7 202.5,302.9 206.5,303.2 210.5,303.4 214.5,303.6 218.5,303.7 222.5,303.6 226.5,303.4 227.5,303.3 228.5,303.2 229.5,303.1 230.5,303.0 231.5,302.9 232.5,302.8 233.5,302.7 234.5,302.6 235.5,302.4 236.5,302.2 237.5,302.0 238.5,301.8 239.5,301.6 240.5,301.3 241.5,301.0 242.5,300.6 243.5,300.3 244.5,299.8 245.5,299.3 246.5,298.7 247.5,298.1 248.5,297.5 249.5,296.9 250.5,296.3 251.5,295.7 252.5,295.1 253.5,294.4 254.5,293.8 255.5,293.1 256.5,292.4 257.5,291.8 258.5,291.0 259.5,290.3 260.5,289.6 261.5,288.8 262.5,288.0 263.5,287.1 264.5,286.3 265.5,285.4 266.5,284.4 267.5,283.4 268.5,282.4 269.5,281.3 270.5,280.2 271.5,279.1 272.5,277.9 273.5,276.8 274.5,275.6 275.5,274.3 276.5,273.0 277.5,271.5 278.5,269.9 279.5,268.0 280.5,265.8 281.5,263.4 282.5,260.9 283.5,258.4 284.5,255.7 285.5,252.9 286.5,249.9 287.5,246.8 288.5,243.4 289.5,239.9 290.5,236.3 291.5,232.4 292.5,228.3 293.5,223.8 294.5,218.9 295.5,213.7 296.5,208.2 297.5,202.7 298.5,197.1 299.5,191.6 300.5,186.3 301.5,180.9 302.5,175.6 303.5,170.1 304.5,164.5 305.5,158.7 306.5,152.5 307.5,146.1 308.5,139.6 309.5,133.0 310.5,126.3 311.5,119.6 312.5,112.8 313.5,106.0 314.5,99.6 315.5,93.9 316.5,88.7 317.5,83.6 318.5,79.0 319.5,75.3 320.5,72.4 321.5,70.2 322.5,68.3 323.5,66.8 324.5,65.4 325.5,64.4 326.5,63.9 327.5,63.9 328.5,64.5 329.5,65.6 330.5,66.9 331.5,68.6 332.5,70.8 333.5,73.7 334.5,77.4 335.5,82.0 336.5,87.0 337.5,91.9 338.5,96.4 339.5,100.6 340.5,104.5 341.5,108.4 342.5,112.4 343.5,116.4 344.5,120.4 345.5,124.5 346.5,128.6 347.5,132.9 348.5,137.3 349.5,141.8 350.5,146.4 351.5,151.1 352.5,155.8 353.5,160.5 354.5,165.3 355.5,170.1 356.5,174.9 357.5,179.7 358.5,184.4 359.5,188.9 360.5,193.3 361.5,197.5 362.5,201.6 363.5,205.6 364.5,209.5 365.5,213.3 366.5,217.0 367.5,220.7 368.5,224.2 369.5,227.6 370.5,230.9 371.5,234.1 372.5,237.2 373.5,240.2 374.5,243.0 375.5,245.8 376.5,248.4 377.5,250.9 378.5,253.4 379.5,255.7 380.5,257.8 381.5,259.8 382.5,261.6 383.5,263.2 384.5,264.8 385.5,266.3 386.5,267.9 387.5,269.5 388.5,271.2 389.5,273.0 390.5,274.8 391.5,276.5 392.5,278.1 393.5,279.6 394.5,281.0 395.5,282.3 396.5,283.5 397.5,284.6 398.5,285.6 399.5,286.6 400.5,287.4 401.5,288.2 402.5,288.9 403.5,289.7 404.5,290.4 405.5,291.2 406.5,292.0 407.5,292.9 408.5,293.7 409.5,294.4 410.5,295.1 411.5,295.8 412.5,296.5 413.5,297.1 414.5,297.7 415.5,298.3 416.5,298.9 417.5,299.4 418.5,299.9 419.5,300.4 420.5,300.8 421.5,301.2 422.5,301.6 423.5,302.0 424.5,302.4 425.5,302.7 426.5,303.0 427.5,303.3 428.5,303.6 429.5,303.9 430.5,304.1 431.5,304.3 432.5,304.5 433.5,304.8 434.5,305.0 435.5,305.2 436.5,305.4 437.5,305.5 438.5,305.7 439.5,305.9 440.5,306.1 441.5,306.2 442.5,306.4 443.5,306.5 444.5,306.6 445.5,306.7 446.5,306.8 447.5,306.9 448.5,307.0 449.5,307.1 450.5,307.1 451.5,307.2 452.5,307.2 453.5,307.2 454.5,307.3 455.5,307.3 456.5,307.3 457.5,307.4 458.5,307.4 459.5,307.4 462.5,307.5 466.5,307.6 470.5,307.7 474.5,307.9 478.5,308.1 482.5,308.4 486.5,308.6 490.5,308.8 494.5,309.0 498.5,309.1 502.5,309.1 506.5,309.1 510.5,309.0 514.5,309.0 518.5,308.9 522.5,308.8 526.5,308.7 530.5,308.6 534.5,308.5 538.5,308.4 542.5,308.3 546.5,308.2 550.5,308.1 554.5,308.0 558.5,307.9 562.5,307.7 566.5,307.7 570.5,307.6 574.5,307.5 578.5,307.4 582.5,307.3 586.5,307.3 590.5,307.2 594.5,307.1 598.5,307.0 602.5,307.0 606.5,306.9 610.5,306.8 614.5,306.7 618.5,306.7" stroke="#262626"/>
<path d="M82.5,295.5 86.5,295.8 90.5,296.0 94.5,296.3 98.5,296.6 102.5,296.8 106.5,297.1 110.5,297.4 114.5,297.6 118.5,297.9 122.5,298.1 126.5,298.4 130.5,298.6 134.5,298.9 138.5,299.1 142.5,299.4 146.5,299.6 150.5,299.8 154.5,300.1 158.5,300.3 162.5,300.5 166.5,300.8 170.5,301.0 174.5,301.2 178.5,301.5 182.5,301.7 186.5,301.9 190.5,302.1 194.5,302.3 198.5,302.5 202.5,302.7 206.5,303.0 210.5,303.2 214.5,303.4 218.5,303.5 222.5,303.5 226.5,303.4 227.5,303.3 228.5,303.2 229.5,303.1 230.5,303.0 231.5,302.8 232.5,302.6 233.5,302.4 234.5,302.2 235.5,302.0 236.5,301.8 237.5,301.6 238.5,301.4 239.5,301.2 240.5,300.9 241.5,300.6 242.5,300.2 243.5,299.8 244.5,299.3 245.5,298.8 246.5,298.1 247.5,297.5 248.5,296.9 249.5,296.3 250.5,295.7 251.5,295.0 252.5,294.4 253.5,293.7 254.5,293.1 255.5,292.4 256.5,291.7 257.5,291.0 258.5,290.2 259.5,289.5 260.5,288.8 261.5,288.0 262.5,287.2 263.5,286.3 264.5,285.4 265.5,284.4 266.5,283.3 267.5,282.1 268.5,280.9 269.5,279.7 270.5,278.3 271.5,277.0 272.5,275.5 273.5,274.0 274.5,272.4 275.5,270.6 276.5,268.7 277.5,266.6 278.5,264.3 279.5,261.9 280.5,259.4 281.5,256.9 282.5,254.2 283.5,251.4 284.5,248.4 285.5,245.1 286.5,241.7 287.5,238.0 288.5,234.2 289.5,230.1 290.5,225.8 291.5,221.3 292.5,216.7 293.5,211.9 294.5,207.0 295.5,201.8 296.5,196.4 297.5,190.8 298.5,184.8 299.5,178.4 300.5,171.9 301.5,165.3 302.5,158.8 303.5,152.3 304.5,145.7 305.5,139.0 306.5,132.0 307.5,124.7 308.5,117.1 309.5,109.6 310.5,102.4 311.5,95.5 312.5,88.8 313.5,82.2 314.5,75.5 315.5,68.6 316.5,62.1 317.5,56.2 318.5,51.4 319.5,47.6 320.5,44.4 321.5,41.5 322.5,38.8 323.5,36.0 324.5,33.6 325.5,32.1 326.5,31.7 327.5,32.1 328.5,33.0 329.5,34.5 330.5,36.4 331.5,38.8 332.5,41.6 333.5,44.7 334.5,48.4 335.5,52.5 336.5,57.0 337.5,61.7 338.5,66.5 339.5,71.4 340.5,76.3 341.5,81.4 342.5,86.6 343.5,92.0 344.5,97.7 345.5,103.7 346.5,109.5 347.5,115.1 348.5,120.5 349.5,125.8 350.5,131.1 351.5,136.4 352.5,141.8 353.5,147.2 354.5,152.6 355.5,157.9 356.5,163.1 357.5,168.4 358.5,173.6 359.5,178.7 360.5,183.6 361.5,188.4 362.5,192.8 363.5,197.1 364.5,201.1 365.5,205.0 366.5,208.8 367.5,212.5 368.5,216.1 369.5,219.6 370.5,223.1 371.5,226.4 372.5,229.7 373.5,232.9 374.5,235.9 375.5,238.9 376.5,241.7 377.5,244.5 378.5,247.1 379.5,249.6 380.5,252.0 381.5,254.3 382.5,256.4 383.5,258.5 384.5,260.3 385.5,262.1 386.5,263.7 387.5,265.2 388.5,266.8 389.5,268.4 390.5,270.0 391.5,271.8 392.5,273.5 393.5,275.3 394.5,277.0 395.5,278.6 396.5,280.1 397.5,281.6 398.5,283.0 399.5,284.3 400.5,285.4 401.5,286.5 402.5,287.4 403.5,288.3 404.5,289.2 405.5,290.0 406.5,290.8 407.5,291.6 408.5,292.4 409.5,293.2 410.5,294.0 411.5,294.7 412.5,295.4 413.5,296.1 414.5,296.8 415.5,297.5 416.5,298.1 417.5,298.7 418.5,299.3 419.5,299.8 420.5,300.3 421.5,300.7 422.5,301.1 423.5,301.5 424.5,301.9 425.5,302.2 426.5,302.6 427.5,302.9 428.5,303.2 429.5,303.5 430.5,303.8 431.5,304.0 432.5,304.3 433.5,304.5 434.5,304.7 435.5,304.9 436.5,305.1 437.5,305.3 438.5,305.5 439.5,305.6 440.5,305.8 441.5,305.9 442.5,306.1 443.5,306.2 444.5,306.3 445.5,306.4 446.5,306.5 447.5,306.6 448.5,306.7 449.5,306.8 450.5,306.8 451.5,306.9 452.5,307.0 453.5,307.0 454.5,307.1 455.5,307.1 456.5,307.2 457.5,307.2 458.5,307.3 459.5,307.3 462.5,307.4 466.5,307.4 470.5,307.5 474.5,307.7 478.5,307.9 482.5,308.1 486.5,308.4 490.5,308.6 494.5,308.8 498.5,308.9 502.5,308.9 506.5,308.9 510.5,308.8 514.5,308.8 518.5,308.7 522.5,308.6 526.5,308.5 530.5,308.4 534.5,308.3 538.5,308.2 542.5,308.1 546.5,308.0 550.5,307.9 554.5,307.8 558.5,307.7 562.5,307.6 566.5,307.5 570.5,307.4 574.5,307.3 578.5,307.2 582.5,307.2 586.5,307.1 590.5,307.0 594.5,306.9 598.5,306.9 602.5,306.8 606.5,306.7 610.5,306.6 614.5,306.6 618.5,306.5" stroke="#000000"/>
</g>
<g stroke="#a0a0a0" stroke-width="1" fill="none">
<path d="M419.5,13.2 V222.8"/>
<path d="M415.5,218.4 H686.6"/>
<path d="M415.5,13.20 H419.5"/>
<path d="M415.5,54.24 H419.5"/>
<path d="M415.5,95.28 H419.5"/>
<path d="M415.5,136.32 H419.5"/>
<path d="M415.5,177.36 H419.5"/>
<path d="M464.02,218.4 V222.8"/>
<path d="M508.53,218.4 V222.8"/>
<path d="M553.05,218.4 V222.8"/>
<path d="M597.57,218.4 V222.8"/>
<path d="M642.08,218.4 V222.8"/>
<path d="M686.60,218.4 V222.8"/>
</g>
<g font-size="12.3" font-weight="bold" fill="#000">
<text x="406.6" y="17.80" text-anchor="end">0.25</text>
<text x="406.6" y="58.84" text-anchor="end">0.2</text>
<text x="406.6" y="99.88" text-anchor="end">0.15</text>
<text x="406.6" y="140.92" text-anchor="end">0.1</text>
<text x="406.6" y="181.96" text-anchor="end">0.05</text>
<text x="406.6" y="223.00" text-anchor="end">0</text>
<text x="419.90" y="241.0" text-anchor="middle">0.0</text>
<text x="464.42" y="241.0" text-anchor="middle">10.0</text>
<text x="508.93" y="241.0" text-anchor="middle">20.0</text>
<text x="553.45" y="241.0" text-anchor="middle">30.0</text>
<text x="597.97" y="241.0" text-anchor="middle">40.0</text>
<text x="642.48" y="241.0" text-anchor="middle">50.0</text>
<text x="687.00" y="241.0" text-anchor="middle">60.0</text>
</g>
<text x="517.7" y="260.3" font-size="15" font-weight="bold" textLength="71.8" lengthAdjust="spacingAndGlyphs">[CA] / µM</text>
<text transform="translate(375.3,150.3) rotate(-90)" font-size="18.2" font-weight="bold" textLength="48.5" lengthAdjust="spacingAndGlyphs">i<tspan font-size="11.5" dy="3.5">p</tspan><tspan dy="-3.5"> / µA</tspan></text>
<path d="M423.5,210.91 L643.4,51.80" stroke="#000" stroke-width="0.9" fill="none"/>
<path d="M424,214.08 L685,142.72" stroke="#a6a6a6" stroke-width="0.85" fill="none"/>
<g fill="#a6a6a6"><circle cx="424.2" cy="217.0" r="2.9"/><circle cx="424.2" cy="215.4" r="2.9"/><circle cx="438.3" cy="212.7" r="2.9"/><circle cx="438.3" cy="211.0" r="2.9"/><circle cx="456.1" cy="207.1" r="2.9"/><circle cx="457" cy="206.1" r="2.9"/><circle cx="473.5" cy="202.7" r="2.9"/><circle cx="491.2" cy="195" r="2.9"/><circle cx="492.8" cy="194" r="2.9"/><circle cx="510.7" cy="191.2" r="2.9"/><circle cx="517.5" cy="189" r="2.9"/><circle cx="560.4" cy="181.4" r="2.9"/><circle cx="598.3" cy="163.9" r="2.9"/><circle cx="623.6" cy="157.7" r="2.9"/><circle cx="664.4" cy="149.8" r="2.9"/><circle cx="684.7" cy="142.8" r="2.9"/></g>
<g fill="#000"><circle cx="424.5" cy="211.2" r="2.9"/><circle cx="429.2" cy="207.6" r="2.9"/><circle cx="434" cy="204.2" r="2.9"/><circle cx="438.8" cy="199.6" r="2.9"/><circle cx="438.8" cy="198.3" r="2.9"/><circle cx="447.9" cy="195.6" r="2.9"/><circle cx="448.3" cy="194.5" r="2.9"/><circle cx="457.1" cy="190.7" r="2.9"/><circle cx="466.5" cy="180.6" r="2.9"/><circle cx="466.9" cy="179.2" r="2.9"/><circle cx="475.9" cy="166.5" r="2.9"/><circle cx="492.8" cy="162" r="2.9"/><circle cx="510.7" cy="151.2" r="2.9"/><circle cx="521.8" cy="141.1" r="2.9"/><circle cx="555.5" cy="115.4" r="2.9"/><circle cx="598.1" cy="89.9" r="2.9"/><circle cx="643.4" cy="47.8" r="2.9"/></g>
<circle cx="447" cy="25.3" r="3" fill="#000"/>
<circle cx="447" cy="60.9" r="3" fill="#a6a6a6"/>
<text x="459.2" y="30.1" font-size="14.1" font-weight="bold" textLength="57.6" lengthAdjust="spacingAndGlyphs">SNGC-CB</text>
<text x="459.2" y="65.7" font-size="14.1" font-weight="bold" textLength="35.5" lengthAdjust="spacingAndGlyphs">SNGC</text>
<text x="427.7" y="92.3" font-size="11.8" font-weight="bold" fill="#000" textLength="153.1" lengthAdjust="spacingAndGlyphs">y = 3.95 × 10<tspan font-size="7.5" dy="-4.3">3</tspan><tspan dy="4.3">x + 4.79 × 10</tspan><tspan font-size="7.5" dy="-4.3">9</tspan></text>
<text x="475.8" y="109.0" font-size="11.8" font-weight="bold" fill="#000" textLength="56.3" lengthAdjust="spacingAndGlyphs">R<tspan font-size="7.5" dy="-4.3">2</tspan><tspan dy="4.3"> = 0.995</tspan></text>
<text x="534.5" y="195.5" font-size="11.8" font-weight="bold" fill="#7f7f7f" textLength="151.9" lengthAdjust="spacingAndGlyphs">y = 1.52 × 10<tspan font-size="7.5" dy="-4.3">3</tspan><tspan dy="4.3">x + 1.77 × 10</tspan><tspan font-size="7.5" dy="-4.3">9</tspan></text>
<text x="581.5" y="213.4" font-size="11.8" font-weight="bold" fill="#7f7f7f" textLength="56.7" lengthAdjust="spacingAndGlyphs">R<tspan font-size="7.5" dy="-4.3">2</tspan><tspan dy="4.3"> = 0.995</tspan></text>
</svg>
</body></html>
